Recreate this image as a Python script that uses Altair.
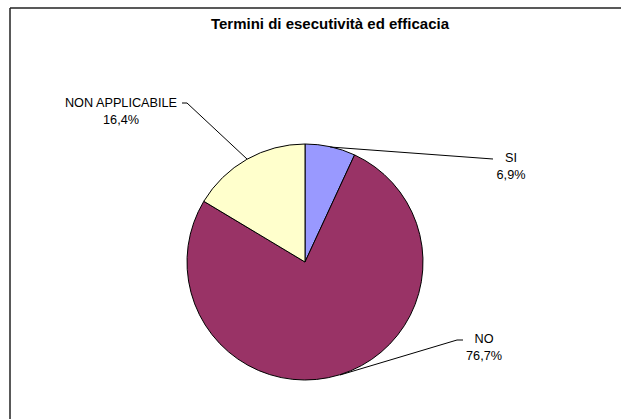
import altair as alt
import pandas as pd

categories = ["SI", "NO", "NON APPLICABILE"]
values = [6.9, 76.7, 16.4]
colors = ["#9999FF", "#993366", "#FFFFCC"]
title_text = "Termini di esecutività ed efficacia"

df = pd.DataFrame({
    "categoria": categories,
    "valore": values,
    "ordine": list(range(len(categories))),
    "etichetta": [f"{c}\n{v:.1f}%".replace(".", ",") for c, v in zip(categories, values)],
})

FONT = "Liberation Sans"
base = alt.Chart(df)

pie = base.mark_arc(outerRadius=118, stroke="black", strokeWidth=1).encode(
    theta=alt.Theta("valore:Q", stack=True),
    order=alt.Order("ordine:Q"),
    color=alt.Color("categoria:N", scale=alt.Scale(domain=categories, range=colors), legend=None),
    x=alt.value(295),
    y=alt.value(254),
)

def label(cat, x, y):
    return base.transform_filter(alt.datum.categoria == cat).mark_text(
        font=FONT, fontSize=12.7, lineBreak="\n", lineHeight=17, color="black",
        align="center", baseline="middle",
    ).encode(text="etichetta:N", x=alt.value(x), y=alt.value(y))

def leader(cat, x1, y1, x2, y2, w=1, col="black"):
    return base.transform_filter(alt.datum.categoria == cat).mark_rule(
        color=col, strokeWidth=w
    ).encode(x=alt.value(x1), y=alt.value(y1), x2=alt.value(x2), y2=alt.value(y2))

labels = [
    label("SI", 501, 150),
    label("NO", 474, 331),
    label("NON APPLICABILE", 111, 95),
]
leaders = [
    leader("SI", 320, 139, 483, 151),
    leader("NO", 330, 367, 447, 332),
    leader("NO", 447, 332, 453, 332),
    leader("NON APPLICABILE", 172, 95, 177, 95),
    leader("NON APPLICABILE", 177, 95, 237, 151),
]

# chart frame (left and top edges visible; the rest lies beyond the picture)
frame = [
    leader("SI", 0, 0, 0, 420, 1.5, "#222222"),
    leader("SI", 0, 0, 620, 0, 1.5, "#222222"),
]

title = base.transform_filter(alt.datum.ordine == 0).mark_text(
    font=FONT, fontSize=15, fontWeight="bold", color="black", align="center", baseline="middle"
).encode(text=alt.value(title_text), x=alt.value(320), y=alt.value(16))

chart = alt.layer(pie, *leaders, *labels, title, *frame).properties(
    width=611, height=411,
    autosize=alt.AutoSizeParams(type="none"),
    padding={"left": 10, "top": 8, "right": 0, "bottom": 0},
    background="white",
).configure_view(strokeWidth=0)

chart.save("out.html", embed_options={"renderer": "svg", "actions": False})
